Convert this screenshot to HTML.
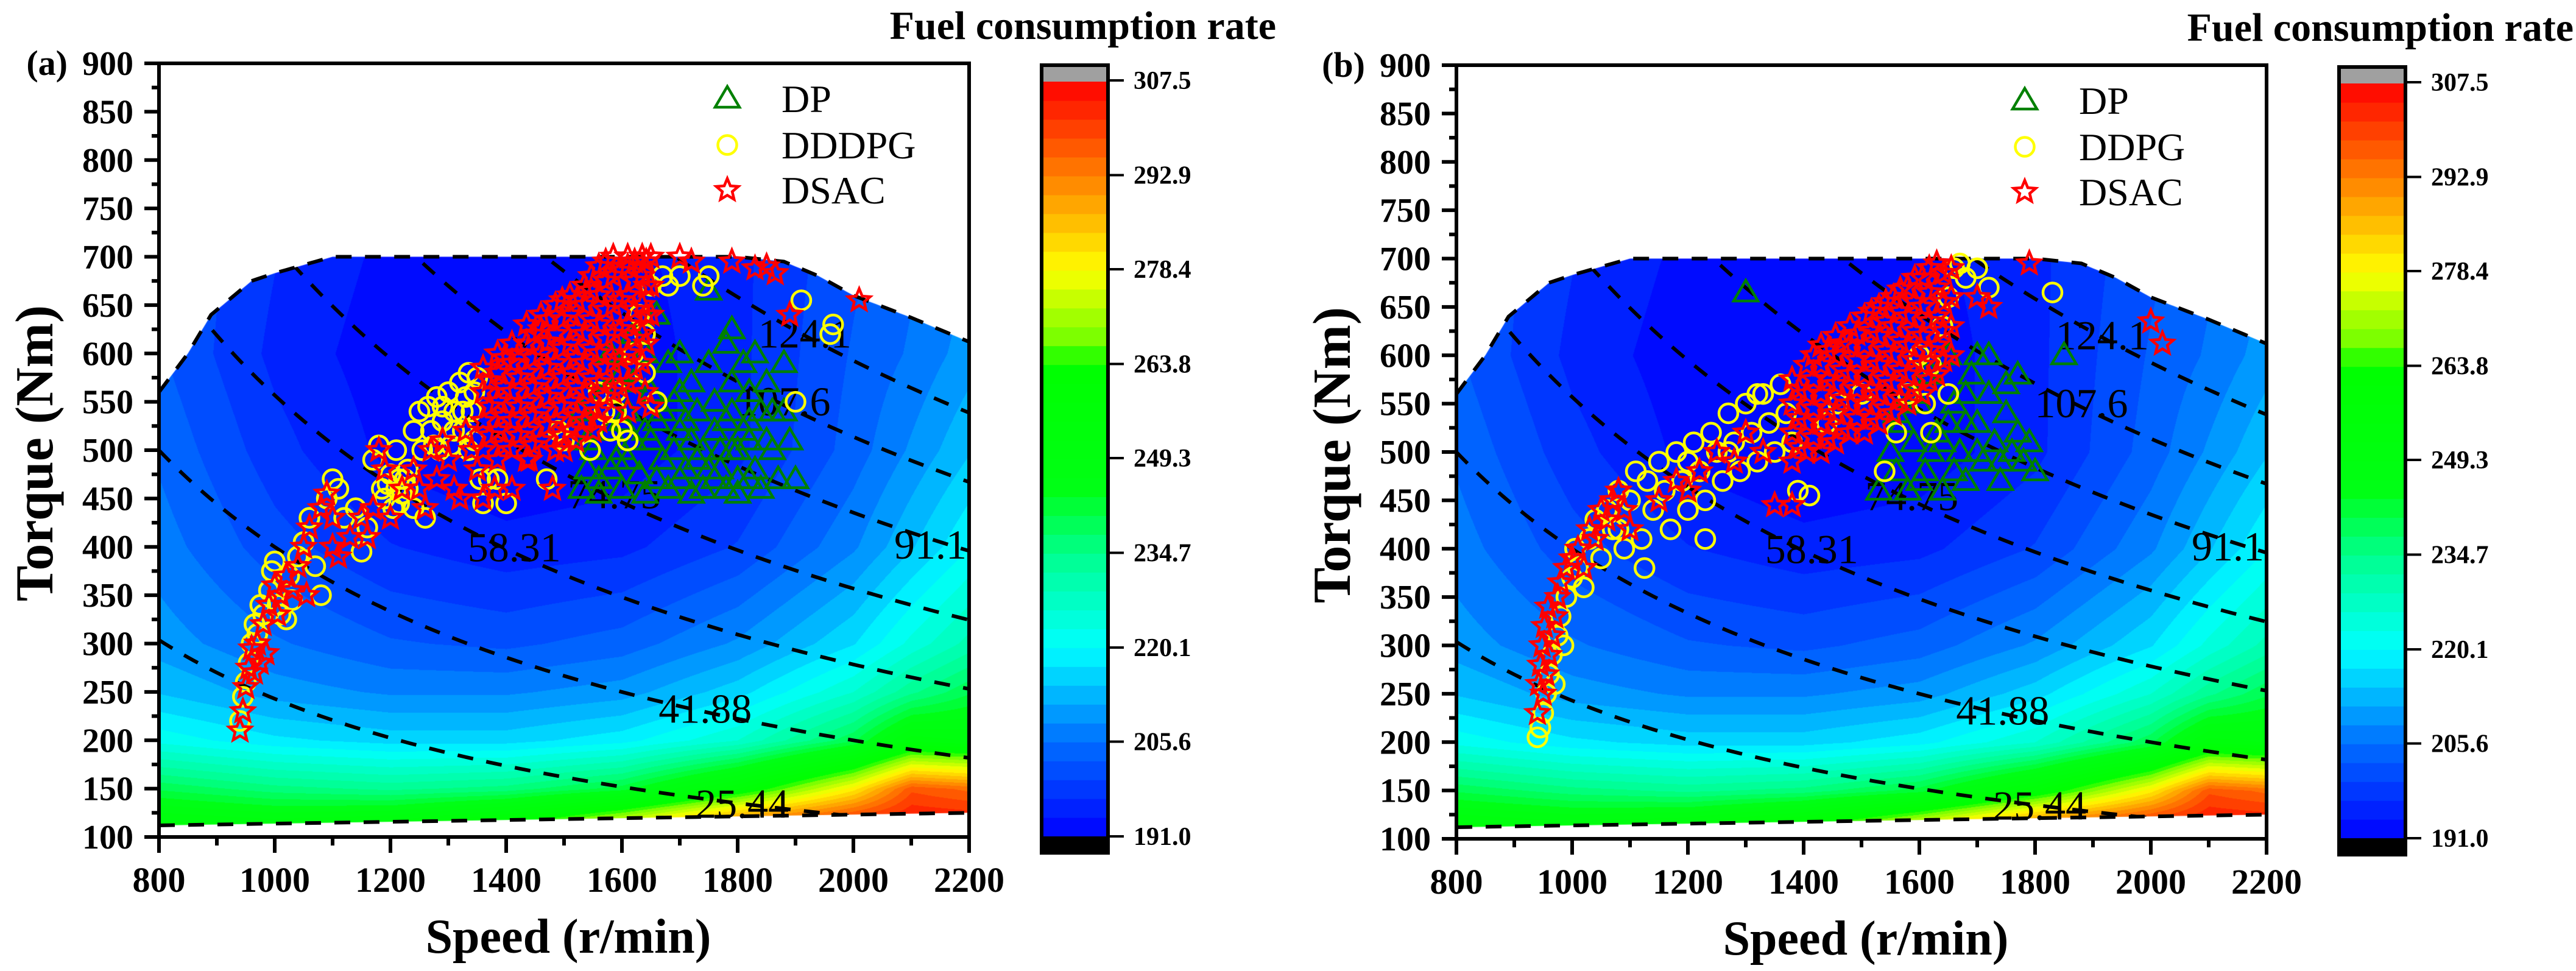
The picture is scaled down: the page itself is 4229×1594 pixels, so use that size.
<!DOCTYPE html>
<html><head><meta charset="utf-8">
<style>
html,body{margin:0;padding:0;background:#fff;}
#wrap{position:relative;width:4229px;height:1594px;overflow:hidden;}
canvas{position:absolute;left:0;top:0;}
svg{position:absolute;left:0;top:0;}
</style></head>
<body>
<div id="wrap">
<canvas id="hmA" width="4229" height="1594"></canvas>
<svg id="svg" width="4229" height="1594" xmlns="http://www.w3.org/2000/svg"></svg>
</div>
<script>
// ---------- data ----------
const gridSpeeds=[800,1000,1200,1400,1600,1800,2000,2100,2200];
const gridTorques=[110,150,200,250,300,400,500,600,700];
const gridBsfc=[
[255,253,256,265,282,300,307,307,307],
[240,236,234,236,242,258,280,298,295],
[222,218,216,216,219,226,240,254,252],
[214,210,208,208,210,216,226,234,240],
[210,206,203,202,204,209,217,224,230],
[207,201,197,195,196,200,208,214,220],
[205,198,193,191,192,196,204,209,214],
[203,196,192,191,192,196,203,206,210],
[203,197,193,192,193,196,202,205,208]];
const maxTorqueSpeed=[800,850,890,960,1000,1100,1650,1800,1880,1940,2000,2100,2200];
const maxTorqueValue=[560,600,640,675,683,700,700,700,695,680,660,637,612];
const minLineSpeed=[800,2200];
const minLineTorque=[112,125];
const powerLevels=[25.44,41.88,58.31,74.75,91.19,107.6,124.1];
const powerLabels=["25.44","41.88","58.31","74.75","91.19","107.6","124.1"];
const powerLabelSpeed=[1808,1744,1414,1587,2151,1880,1916];
const powerLabelTorque=[120,218,385,440,388,536,606];
const xTicks=[800,1000,1200,1400,1600,1800,2000,2200];
const yTicks=[100,150,200,250,300,350,400,450,500,550,600,650,700,750,800,850,900];
const cbTicks=[191.0,205.6,220.1,234.7,249.3,263.8,278.4,292.9,307.5];
const cmapVals=[191,205.6,220.1,234.7,245,263.8,267,278.4,292.9,307.5];
const cmapR=[0,0,0,0,0,0,110,255,255,255];
const cmapG=[0,110,255,255,255,255,255,255,128,0];
const cmapB=[255,255,255,140,20,0,0,0,0,0];

const aDP=[[1530,460],[1540,480],[1530,540],[1550,500],[1560,470],[1570,560],[1580,520],[1590,490],[1600,460],[1600,580],[1610,540],[1620,510],[1630,475],[1640,600],[1650,560],[1660,530],[1670,490],[1680,460],[1680,590],[1690,550],[1700,520],[1700,600],[1710,480],[1720,570],[1730,540],[1740,500],[1740,460],[1750,590],[1760,550],[1760,520],[1770,480],[1780,610],[1780,460],[1790,570],[1790,540],[1800,500],[1800,470],[1810,590],[1810,520],[1820,560],[1830,480],[1830,600],[1840,540],[1840,460],[1850,570],[1860,500],[1880,590],[1880,540],[1890,510],[1900,470],[1790,625],[1750,665],[1620,620],[1660,640],[1580,600],[1640,455],[1720,455],[1800,455],[1560,455],[1690,500],[1750,480],[1650,510],[1610,490],[1720,510],[1780,530],[1700,560],[1620,570],[1540,510],[1870,470],[1820,510],[1770,500],[1710,530],[1660,470],[1600,500],[1860,540],[1850,510],[1820,530],[1790,500],[1730,490],[1670,540],[1640,520],[1600,530],[1580,480],[1700,470],[1760,470],[1820,470]];
const aDDDPG=[[940,220],[945,245],[950,260],[955,280],[960,300],[965,320],[970,310],[975,340],[980,330],[990,355],[995,375],[1000,385],[1005,340],[1010,330],[1020,325],[1025,370],[1030,345],[1040,390],[1050,405],[1060,430],[1070,380],[1080,350],[1090,450],[1100,470],[1110,460],[1120,430],[1140,440],[1150,395],[1160,420],[1170,490],[1180,505],[1185,460],[1190,450],[1200,475],[1205,440],[1210,500],[1215,470],[1220,455],[1230,480],[1240,440],[1240,520],[1250,540],[1255,500],[1260,430],[1265,545],[1270,520],[1280,555],[1285,500],[1290,530],[1300,560],[1305,505],[1310,540],[1320,570],[1325,520],[1330,555],[1335,580],[1340,540],[1345,510],[1350,575],[1355,470],[1360,445],[1370,470],[1385,470],[1400,445],[1470,470],[1490,520],[1500,510],[1560,560],[1570,540],[1590,560],[1600,520],[1610,510],[1620,600],[1630,640],[1640,620],[1650,670],[1660,550],[1670,680],[1680,670],[1700,680],[1740,670],[1750,680],[1910,655],[1960,620],[1965,630],[1900,550],[1545,500],[1580,520],[1640,580],[1590,540],[1230,460],[1215,445],[1195,465],[1325,540],[1345,560],[1310,520],[1290,545],[1275,505],[1225,470],[1210,460],[1335,500]];
const aDSAC=[[940,210],[945,230],[950,255],[955,275],[960,295],[965,270],[970,300],[975,280],[980,320],[985,290],[990,340],[1000,360],[1005,330],[1010,350],[1020,370],[1030,355],[1040,380],[1050,400],[1055,350],[1060,420],[1080,440],[1090,455],[1100,430],[1100,400],[1110,390],[1130,410],[1150,430],[1160,410],[1170,440],[1180,500],[1190,480],[1200,430],[1220,460],[1240,480],[1250,460],[1260,440],[1270,500],[1280,470],[1290,510],[1300,490],[1310,460],[1320,450],[1330,520],[1340,500],[1350,480],[1360,450],[1380,460],[1410,460],[1440,490],[1480,460],[1460,510],[1500,500],[1520,510],[1550,520],[1560,530],[1610,540],
[1360,500],[1360,530],[1360,560],[1360,585],[1385,490],[1385,520],[1385,550],[1385,580],[1385,600],[1410,500],[1410,530],[1410,560],[1410,590],[1410,610],[1435,490],[1435,520],[1435,550],[1435,580],[1435,610],[1435,630],[1460,510],[1460,540],[1460,570],[1460,600],[1460,625],[1460,640],[1485,500],[1485,530],[1485,560],[1485,590],[1485,620],[1485,650],[1510,520],[1510,550],[1510,580],[1510,610],[1510,640],[1510,660],[1535,530],[1535,560],[1535,590],[1535,620],[1535,650],[1535,670],[1560,540],[1560,570],[1560,600],[1560,630],[1560,660],[1560,690],[1585,560],[1585,590],[1585,620],[1585,650],[1585,680],[1585,700],[1610,570],[1610,600],[1610,630],[1610,660],[1610,690],[1610,700],[1635,590],[1635,620],[1635,650],[1635,680],[1635,700],[1650,640],[1650,670],[1650,700],
[1372,515],[1372,545],[1372,572],[1397,505],[1397,535],[1397,565],[1397,595],[1422,515],[1422,545],[1422,575],[1422,600],[1447,505],[1447,535],[1447,565],[1447,595],[1447,620],[1472,525],[1472,555],[1472,585],[1472,612],[1472,635],[1497,515],[1497,545],[1497,575],[1497,605],[1497,635],[1497,655],[1522,535],[1522,565],[1522,595],[1522,625],[1522,655],[1547,545],[1547,575],[1547,605],[1547,635],[1547,665],[1547,680],[1572,555],[1572,585],[1572,615],[1572,645],[1572,675],[1572,695],[1597,565],[1597,595],[1597,625],[1597,655],[1597,685],[1622,585],[1622,615],[1622,645],[1622,675],[1622,695],[1642,610],[1642,640],[1642,670],[1642,695],
[1700,700],[1720,695],[1790,695],[1830,688],[1850,690],[1865,683],[1890,640],[2010,655],[1650,545],[1640,560]];

const bDP=[[1300,665],[1850,600],[1530,460],[1550,500],[1560,480],[1570,530],[1580,460],[1590,510],[1600,550],[1610,480],[1620,580],[1630,520],[1640,460],[1650,600],[1660,550],[1670,500],[1680,470],[1690,580],[1700,530],[1700,600],[1710,490],[1720,560],[1730,510],[1740,470],[1750,540],[1760,500],[1770,580],[1780,490],[1790,510],[1800,480],[1640,510],[1680,530],[1720,600],[1610,580],[1660,480],[1750,570],[1590,560],[1560,540],[1740,490],[1620,500],[1650,530],[1700,500],[1770,520],[1600,470],[1680,560]];
const bDDPG=[[940,205],[945,215],[950,230],[955,250],[960,270],[965,290],[970,260],[975,310],[980,330],[985,300],[990,350],[1000,370],[1005,400],[1010,380],[1020,360],[1030,410],[1040,430],[1050,390],[1060,440],[1070,420],[1080,460],[1090,400],[1100,450],[1110,480],[1120,410],[1130,470],[1140,440],[1150,490],[1160,460],[1170,420],[1180,500],[1190,470],[1200,440],[1210,510],[1220,480],[1230,450],[1240,520],[1250,500],[1260,470],[1270,540],[1280,510],[1290,480],[1300,550],[1310,520],[1320,490],[1330,560],[1340,530],[1350,500],[1360,570],[1370,540],[1380,510],[1390,460],[1410,455],[1440,530],[1460,550],[1500,560],[1540,480],[1560,520],[1580,560],[1600,600],[1620,590],[1640,630],[1650,660],[1660,690],[1670,695],[1680,680],[1700,690],[1720,670],[1650,560],[1610,550],[1620,520],[1830,665],[1125,380],[1080,420],[1230,410],[1270,500],[1320,560],[1200,490]];
const bDSAC=[[940,230],[942,260],[945,280],[948,300],[950,250],[952,320],[955,270],[958,340],[960,290],[965,310],[970,330],[975,350],[980,365],[990,380],[1000,390],[1010,400],[1020,380],[1030,420],[1040,410],[1050,440],[1060,430],[1070,450],[1080,460],[1090,440],[1100,420],[1150,450],[1180,470],[1200,460],[1220,480],[1250,500],[1280,490],[1300,520],[1330,500],[1350,445],[1380,445],[1790,695],[2000,635],[2020,612],
[1380,490],[1380,520],[1380,550],[1380,575],[1405,500],[1405,530],[1405,560],[1405,590],[1430,500],[1430,530],[1430,560],[1430,590],[1430,610],[1455,510],[1455,540],[1455,570],[1455,600],[1455,620],[1480,520],[1480,550],[1480,580],[1480,610],[1480,630],[1505,520],[1505,550],[1505,580],[1505,610],[1505,640],[1530,530],[1530,560],[1530,590],[1530,620],[1530,650],[1555,540],[1555,570],[1555,600],[1555,630],[1555,660],[1580,550],[1580,580],[1580,610],[1580,640],[1580,670],[1605,560],[1605,590],[1605,620],[1605,650],[1605,680],[1630,580],[1630,610],[1630,640],[1630,670],[1630,695],[1655,600],[1655,630],[1655,660],[1655,690],[1700,660],[1720,650],
[1392,505],[1392,535],[1392,565],[1417,515],[1417,545],[1417,575],[1417,600],[1442,515],[1442,545],[1442,575],[1442,605],[1467,525],[1467,555],[1467,585],[1467,612],[1492,535],[1492,565],[1492,595],[1492,622],[1517,535],[1517,565],[1517,595],[1517,625],[1517,645],[1542,545],[1542,575],[1542,605],[1542,635],[1542,655],[1567,555],[1567,585],[1567,615],[1567,645],[1567,668],[1592,565],[1592,595],[1592,625],[1592,655],[1592,680],[1617,575],[1617,605],[1617,635],[1617,665],[1617,690],[1642,595],[1642,625],[1642,655],[1642,685]];

// ---------- layout ----------
const NS="http://www.w3.org/2000/svg";
const svg=document.getElementById('svg');
const PW=1330, PH=1270;
function mk(tag,attrs,parent){const e=document.createElementNS(NS,tag);for(const k in attrs)e.setAttribute(k,attrs[k]);(parent||svg).appendChild(e);return e;}
const FONT='"Liberation Serif", "Times New Roman", serif';

function interp1(xs,ys,x){if(x<=xs[0])return ys[0];for(let i=1;i<xs.length;i++){if(x<=xs[i]){const t=(x-xs[i-1])/(xs[i]-xs[i-1]);return ys[i-1]+t*(ys[i]-ys[i-1]);}}return ys[ys.length-1];}
function idx(arr,v){let i=0;while(i<arr.length-2&&v>arr[i+1])i++;let t=(v-arr[i])/(arr[i+1]-arr[i]);t=Math.max(0,Math.min(1,t));return [i,t];}
function bsfc(n,T){const [i,ti]=idx(gridSpeeds,n);const [j,tj]=idx(gridTorques,T);
 const a=gridBsfc[j][i],b=gridBsfc[j][i+1],c=gridBsfc[j+1][i],d=gridBsfc[j+1][i+1];
 return (a*(1-ti)+b*ti)*(1-tj)+(c*(1-ti)+d*ti)*tj;}
const NLEV=40, VMIN=191, VMAX=307.5;
function cmap(v){return [interp1(cmapVals,cmapR,v),interp1(cmapVals,cmapG,v),interp1(cmapVals,cmapB,v)];}
function quant(v){let k=Math.floor((v-VMIN)/(VMAX-VMIN)*NLEV);k=Math.max(0,Math.min(NLEV-1,k));return VMIN+(k+0.5)*(VMAX-VMIN)/NLEV;}

const ctx=document.getElementById('hmA').getContext('2d');

function drawPanel(X0,Y0,letter,dp,ddpg,dsac,ddpgName,id){
 const sx=n=>X0+(n-800)/1400*PW;
 const sy=T=>Y0+(900-T)/800*PH;
 const g=mk('g',{});
 
 
 const topPts=[];for(let n=800;n<=2200;n+=10)topPts.push([sx(n),sy(interp1(maxTorqueSpeed,maxTorqueValue,n))]);
 const botPts=[[sx(minLineSpeed[1]),sy(minLineTorque[1])],[sx(minLineSpeed[0]),sy(minLineTorque[0])]];
 const poly=topPts.concat(botPts);
 ctx.save();ctx.beginPath();poly.forEach((p,i)=>i?ctx.lineTo(p[0],p[1]):ctx.moveTo(p[0],p[1]));ctx.closePath();ctx.clip();
 const img=ctx.createImageData(PW,PH);
 for(let py=0;py<PH;py++){const T=900-py/PH*800;for(let px=0;px<PW;px++){const n=800+px/PW*1400;const c=cmap(quant(bsfc(n,T)));const o=(py*PW+px)*4;img.data[o]=c[0];img.data[o+1]=c[1];img.data[o+2]=c[2];img.data[o+3]=255;}}
 const tmp=document.createElement('canvas');tmp.width=PW;tmp.height=PH;tmp.getContext('2d').putImageData(img,0,0);
 ctx.drawImage(tmp,X0,Y0);ctx.restore();
 const cp=mk('clipPath',{id:'reg'+id},g);mk('polygon',{points:poly.map(p=>p.join(',')).join(' ')},cp);
 const cr=mk('clipPath',{id:'rect'+id},g);mk('rect',{x:X0,y:Y0,width:PW,height:PH},cr);
 const bt=mk('path',{d:'M'+topPts.map(p=>p.join(',')).join(' L'),fill:'none',stroke:'#000','stroke-width':6,'stroke-dasharray':'26 22'},g);
 
 const bb=mk('line',{x1:botPts[1][0],y1:botPts[1][1],x2:botPts[0][0],y2:botPts[0][1],stroke:'#000','stroke-width':6,'stroke-dasharray':'26 22'},g);
 
 const cg=mk('g',{'clip-path':'url(#reg'+id+')'},g);
 powerLevels.forEach((P,k)=>{const pts=[];for(let n=800;n<=2200;n+=10){pts.push(sx(n)+','+sy(9549*P/n));}
  const l=mk('path',{d:'M'+pts.join(' L'),fill:'none',stroke:'#000','stroke-width':6,'stroke-dasharray':'26 22'},cg);
  });
 const lg=mk('g',{'clip-path':'url(#rect'+id+')'},g);
 powerLabels.forEach((s,k)=>{const t=mk('text',{x:sx(powerLabelSpeed[k]),y:sy(powerLabelTorque[k]),'font-family':FONT,'font-size':68,'text-anchor':'middle',fill:'#000'},lg);t.textContent=s;
  });
 const tri=(x,y,c,p)=>mk('path',{d:`M${x},${y-20} L${x+20},${y+14} L${x-20},${y+14} Z`,fill:'none',stroke:c,'stroke-width':4.5},p);
 const cir=(x,y,c,p)=>mk('circle',{cx:x,cy:y,r:15.5,fill:'none',stroke:c,'stroke-width':4.5},p);
 const star=(x,y,c,p)=>{let d='';for(let i=0;i<10;i++){const r=i%2?8.5:19;const a=-Math.PI/2+i*Math.PI/5;d+=(i?'L':'M')+(x+r*Math.cos(a)).toFixed(1)+','+(y+r*Math.sin(a)).toFixed(1);}return mk('path',{d:d+'Z',fill:'none',stroke:c,'stroke-width':4.5},p);};
 const sg=mk('g',{'clip-path':'url(#rect'+id+')'},g);
 dp.forEach(p=>{const m=tri(sx(p[0]),sy(p[1]),'#008000',sg);});
 ddpg.forEach(p=>{const m=cir(sx(p[0]),sy(p[1]),'#ffff00',sg);});
 dsac.forEach(p=>{const m=star(sx(p[0]),sy(p[1]),'#ff0000',sg);});
 const fr=mk('rect',{x:X0,y:Y0,width:PW,height:PH,fill:'none',stroke:'#000','stroke-width':6},g);
 
 xTicks.forEach(v=>{const x=sx(v);mk('line',{x1:x,y1:Y0+PH,x2:x,y2:Y0+PH+26,stroke:'#000','stroke-width':6},g);
  const t=mk('text',{x:x,y:Y0+PH+90,'font-family':FONT,'font-size':58,'font-weight':'bold','text-anchor':'middle'},g);t.textContent=v;
  
  if(v<2200)mk('line',{x1:sx(v+100),y1:Y0+PH,x2:sx(v+100),y2:Y0+PH+14,stroke:'#000','stroke-width':6},g);});
 yTicks.forEach(v=>{const y=sy(v);mk('line',{x1:X0-24,y1:y,x2:X0,y2:y,stroke:'#000','stroke-width':6},g);
  const t=mk('text',{x:X0-42,y:y+19,'font-family':FONT,'font-size':56,'font-weight':'bold','text-anchor':'end'},g);t.textContent=v;
  
  if(v<900)mk('line',{x1:X0-12,y1:sy(v+25),x2:X0,y2:sy(v+25),stroke:'#000','stroke-width':6},g);});
 const pl=mk('text',{x:X0-150,y:Y0+19,'font-family':FONT,'font-size':58,'font-weight':'bold','text-anchor':'end'},g);pl.textContent='('+letter+')';
 
 const xt=mk('text',{x:X0+672,y:Y0+PH+190,'font-family':FONT,'font-size':80,'font-weight':'bold','text-anchor':'middle'},g);xt.textContent='Speed (r/min)';
 
 const yt=mk('text',{x:0,y:0,'font-family':FONT,'font-size':88,'font-weight':'bold','text-anchor':'middle',transform:`translate(${X0-175},${Y0+640}) rotate(-90)`},g);yt.textContent='Torque (Nm)';
 
 const leg=mk('g',{},g);
 const lx=X0+933, ly=[Y0+58,Y0+134,Y0+208];
 tri(lx,ly[0],'#008000',leg);cir(lx,ly[1],'#ffff00',leg);star(lx,ly[2],'#ff0000',leg);
 ['DP',ddpgName,'DSAC'].forEach((s,k)=>{const t=mk('text',{x:X0+1022,y:ly[k]+22,'font-family':FONT,'font-size':64},leg);t.textContent=s;
  });
 const cbx=X0+1449, cbT=Y0+3, cbTop=Y0+30, cbBot=Y0+1269, cbB=Y0+1296, cbW=109;
 const cbg=mk('g',{},g);
 mk('rect',{x:cbx,y:cbT,width:cbW,height:cbTop-cbT,fill:'#a0a0a0'},cbg);
 for(let k=0;k<NLEV;k++){const v=VMIN+(k+0.5)*(VMAX-VMIN)/NLEV;const c=cmap(v);const h=(cbBot-cbTop)/NLEV;
  mk('rect',{x:cbx,y:cbBot-(k+1)*h,width:cbW,height:h+0.6,fill:`rgb(${c.map(Math.round).join(',')})`},cbg);}
 mk('rect',{x:cbx,y:cbBot,width:cbW,height:cbB-cbBot,fill:'#000'},cbg);
 mk('rect',{x:cbx,y:cbT,width:cbW,height:cbB-cbT,fill:'none',stroke:'#000','stroke-width':6},cbg);
 cbTicks.forEach(v=>{const y=cbBot-(v-VMIN)/(VMAX-VMIN)*(cbBot-cbTop+2);mk('line',{x1:cbx+cbW,y1:y,x2:cbx+cbW+26,y2:y,stroke:'#000','stroke-width':4},cbg);
  const t=mk('text',{x:cbx+cbW+42,y:y+14,'font-family':FONT,'font-size':42,'font-weight':'bold'},cbg);t.textContent=v.toFixed(1);
  });
 const ct=mk('text',{x:X0+1834,y:Y0-40,'font-family':FONT,'font-size':66,'font-weight':'bold','text-anchor':'end'},g);ct.textContent='Fuel consumption rate';
 
}
drawPanel(261,104,'a',aDP,aDDDPG,aDSAC,'DDDPG','a');
drawPanel(2391,107,'b',bDP,bDDPG,bDSAC,'DDPG','b');
</script>
</body></html>
